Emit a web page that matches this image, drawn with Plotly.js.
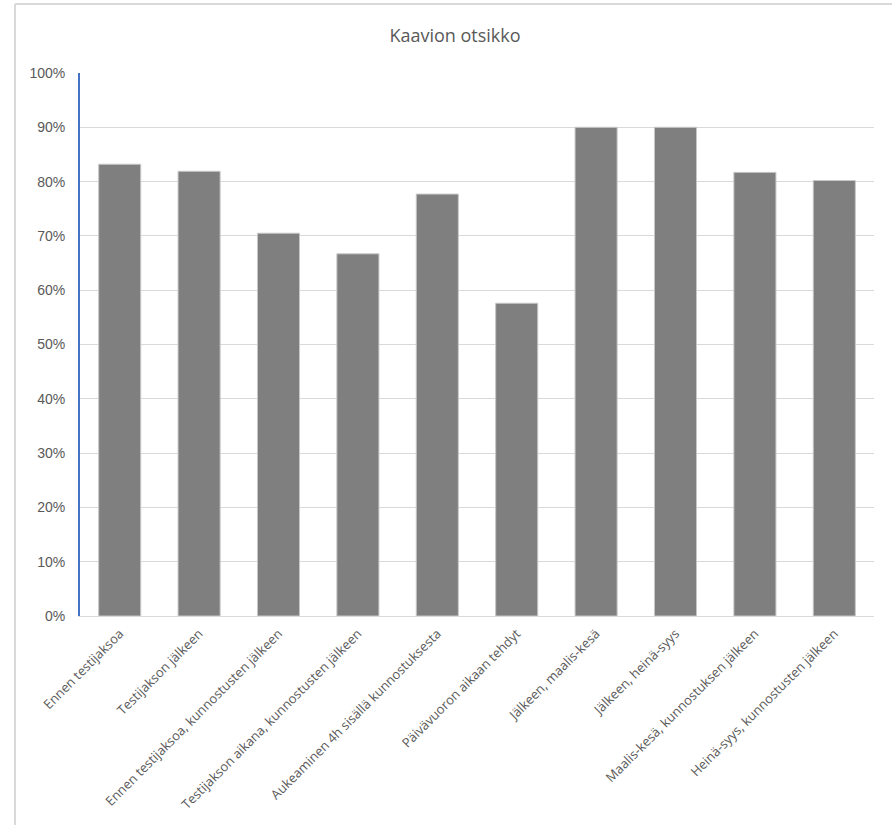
<!DOCTYPE html>
<html>
<head>
<meta charset="utf-8">
<script src="https://cdn.plot.ly/plotly-3.0.1.min.js"></script>
<style>
  html, body { margin: 0; padding: 0; background: #fff; overflow: hidden; }
  #chart { width: 892px; height: 825px; }
</style>
</head>
<body>
<div id="chart"></div>
<script>
const categories = [
  "Ennen testijaksoa",
  "Testijakson jälkeen",
  "Ennen testijaksoa, kunnostusten jälkeen",
  "Testijakson aikana, kunnostusten jälkeen",
  "Aukeaminen 4h sisällä kunnostuksesta",
  "Päivävuoron aikaan tehdyt",
  "Jälkeen, maalis-kesä",
  "Jälkeen, heinä-syys",
  "Maalis-kesä, kunnostuksen jälkeen",
  "Heinä-syys, kunnostusten jälkeen"
];
const values = [83.2, 81.9, 70.5, 66.7, 77.7, 57.6, 90.0, 90.0, 81.7, 80.2];
const yTickVals = [0, 10, 20, 30, 40, 50, 60, 70, 80, 90, 100];
const yTickLabels = ["0%", "10%", "20%", "30%", "40%", "50%", "60%", "70%", "80%", "90%", "100%"];

const W = 892, H = 825;
const M = { l: 80, r: 18, t: 73, b: 209 };
const pw = W - M.l - M.r, ph = H - M.t - M.b;
// chart-area frame (top and left edges visible in the picture)
const frameX = (15 - M.l) / pw;
const frameY = (H - M.b - 4) / ph;

const trace = {
  type: 'bar',
  x: categories,
  y: values,
  marker: { color: '#7f7f7f', line: { color: '#c8c8c8', width: 1 } },
  hoverinfo: 'x+y'
};

const layout = {
  width: W,
  height: H,
  paper_bgcolor: '#ffffff',
  plot_bgcolor: '#ffffff',
  margin: M,
  bargap: 0.47,
  showlegend: false,
  title: {
    text: 'Kaavion otsikko',
    font: { family: 'Open Sans, sans-serif', size: 18, color: '#595959' },
    xref: 'container', yref: 'container',
    x: 455 / W, xanchor: 'center',
    y: 1 - 36 / H, yanchor: 'middle'
  },
  xaxis: {
    type: 'category',
    tickangle: -45,
    tickfont: { family: 'Open Sans, sans-serif', size: 13, color: '#595959' },
    showline: true, linecolor: '#d9d9d9', linewidth: 1,
    showgrid: false,
    ticks: 'outside', ticklen: 4, tickcolor: 'rgba(0,0,0,0)'
  },
  yaxis: {
    range: [0, 100],
    tickmode: 'array',
    tickvals: yTickVals,
    ticktext: yTickLabels,
    tickfont: { family: 'Liberation Sans, Arial, sans-serif', size: 14, color: '#595959' },
    showgrid: true, gridcolor: '#d9d9d9', gridwidth: 1,
    showline: true, linecolor: '#4472c4', linewidth: 2,
    zeroline: false,
    ticks: 'outside', ticklen: 10, tickcolor: 'rgba(0,0,0,0)'
  },
  shapes: [
    { type: 'line', xref: 'paper', yref: 'paper', x0: frameX, x1: 2, y0: frameY, y1: frameY,
      line: { color: '#d9d9d9', width: 2 }, layer: 'below' },
    { type: 'line', xref: 'paper', yref: 'paper', x0: frameX, x1: frameX, y0: frameY, y1: -2,
      line: { color: '#d9d9d9', width: 2 }, layer: 'below' }
  ]
};

Plotly.newPlot('chart', [trace], layout, { displayModeBar: false, staticPlot: true });
</script>
</body>
</html>
